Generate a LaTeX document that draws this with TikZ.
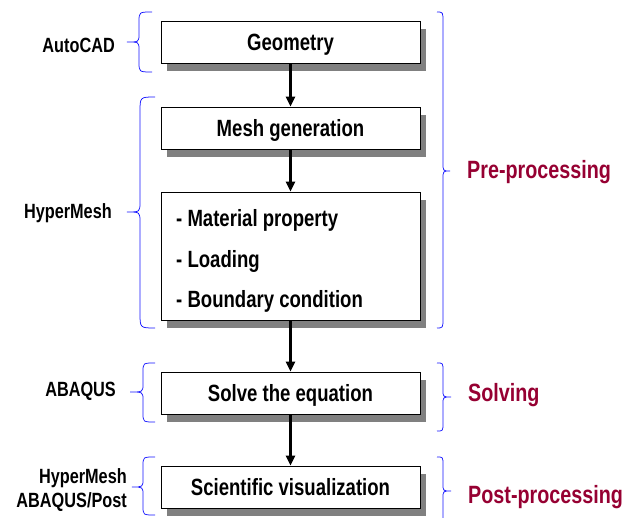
\documentclass[tikz,border=0pt]{standalone}
\usepackage{fontspec}
\setmainfont[FakeStretch=0.79]{Liberation Sans}
\usetikzlibrary{arrows.meta,shadows}
\definecolor{dred}{RGB}{150,0,50}
\definecolor{bblue}{RGB}{20,20,255}
\definecolor{shgray}{RGB}{128,128,128}
\begin{document}
\begin{tikzpicture}[x=1pt,y=-1pt,
  stepbox/.style={draw=black, line width=0.9pt, fill=white, minimum width=259pt, inner sep=0pt,
    font=\fontsize{23.5}{26}\selectfont\bfseries, text height=16.8pt, text depth=0pt,
    general shadow={shadow xshift=6pt, shadow yshift=-8pt, fill=shgray}},
  boxtext/.style={font=\fontsize{23.5}{26}\selectfont\bfseries, inner sep=0pt, anchor=base west},
  tool/.style={font=\fontsize{20.6}{24}\selectfont\bfseries, inner sep=0pt, align=right},
  phase/.style={font=\fontsize{25}{28}\selectfont\bfseries, text=dred, inner sep=0pt, anchor=west},
  flow/.style={line width=2.5pt, -{Triangle[length=10pt,width=9pt]}},
  brc/.style={draw=bblue, line width=0.75pt}]
\useasboundingbox (0,0) rectangle (640,518);

% boxes
\node[stepbox, minimum height=42pt] (geo) at (290.5,42) {Geometry};
\node[stepbox, minimum height=42pt] (mesh) at (290.5,128) {Mesh generation};
\node[stepbox, minimum height=128pt] (mat) at (290.5,256) {};
\node[boxtext] (t1) at (176,227) {- Material property};
\node[boxtext] (t2) at (176,268) {- Loading};
\node[boxtext] (t3) at (176,308) {- Boundary condition};
\node[stepbox, minimum height=42pt] (solve) at (290.5,393) {Solve the equation};
\node[stepbox, minimum height=42pt] (sci) at (290.5,487) {Scientific visualization};

% arrows
\draw[flow] (geo.south) -- (mesh.north);
\draw[flow] (mesh.south) -- (mat.north);
\draw[flow] (mat.south) -- (solve.north);
\draw[flow] (solve.south) -- (sci.north);

% tool labels
\node[tool, anchor=east] (autocad) at (115,45) {AutoCAD};
\node[tool, anchor=east] (hm) at (112,213) {HyperMesh};
\node[tool, anchor=east] (abq) at (116,391) {ABAQUS};
\node[tool, anchor=east] (post) at (127,490) {HyperMesh\\[0pt]ABAQUS/Post};

% phase labels
\node[phase] (pre) at (467,172) {Pre-processing};
\node[phase] (solv) at (468,395) {Solving};
\node[phase] (postp) at (468,497) {Post-processing};

% left braces
\draw[brc] (152,12) .. controls (139,12) .. (139,22) -- (139,34) .. controls (139,42) .. (127,42)
  .. controls (139,42) .. (139,50) -- (139,62) .. controls (139,72) .. (152,72);
\draw[brc] (155,97) .. controls (140,97) .. (140,112) -- (140,202) .. controls (140,212) .. (127,212)
  .. controls (140,212) .. (140,222) -- (140,313) .. controls (140,328) .. (155,328);
\draw[brc] (155,363) .. controls (143,363) .. (143,372) -- (143,384) .. controls (143,392) .. (130,392)
  .. controls (143,392) .. (143,400) -- (143,413) .. controls (143,422) .. (155,422);
\draw[brc] (155,457) .. controls (143,457) .. (143,466) -- (143,479) .. controls (143,487) .. (132,487)
  .. controls (143,487) .. (143,495) -- (143,506) .. controls (143,515) .. (155,515);

% right braces
\draw[brc] (437,12) .. controls (443,12) .. (443,22) -- (443,163) .. controls (443,171) .. (450,171)
  .. controls (443,171) .. (443,179) -- (443,318) .. controls (443,328) .. (437,328);
\draw[brc] (437,363) .. controls (443,363) .. (443,371) -- (443,390) .. controls (443,397) .. (451,397)
  .. controls (443,397) .. (443,404) -- (443,423) .. controls (443,431) .. (437,431);
\draw[brc] (437,457) .. controls (443,457) .. (443,465) -- (443,484) .. controls (443,491) .. (451,491)
  .. controls (443,491) .. (443,498) -- (443,517) .. controls (443,525) .. (437,525);
\end{tikzpicture}
\end{document}
